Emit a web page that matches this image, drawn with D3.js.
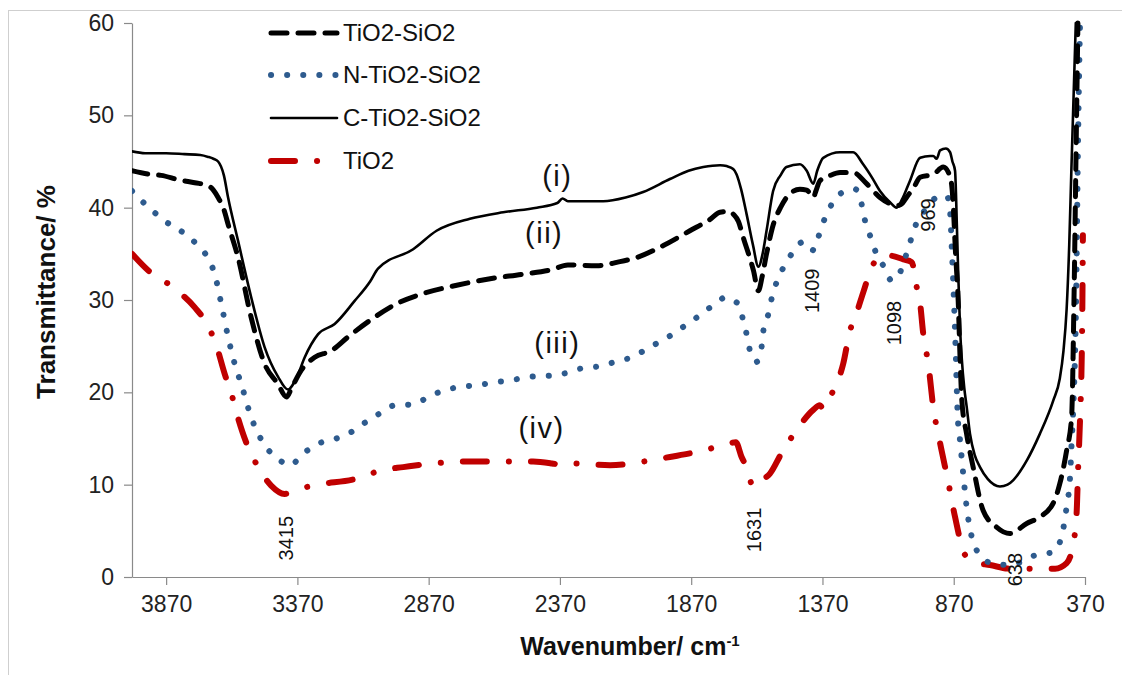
<!DOCTYPE html>
<html>
<head>
<meta charset="utf-8">
<script src="https://cdn.jsdelivr.net/npm/d3@7"></script>
<style>
  html, body { margin: 0; padding: 0; background: #fff; }
  svg { display: block; font-family: "Liberation Sans", Arial, sans-serif; }
</style>
</head>
<body>
<svg id="chart" width="1122" height="675"></svg>
<script>
// FTIR spectra: [wavenumber cm-1, transmittance %]
const cTiO2SiO2 = [
  [4000,46.1],[3950,45.9],[3870,45.9],[3800,45.8],[3740,45.7],[3710,45.5],[3690,45.3],[3672,45.0],
  [3650,43.5],[3634,41.1],[3596,36.4],[3546,30.3],[3495,24.9],[3444,21.7],[3406,20.3],[3370,21.8],
  [3342,23.8],[3291,26.3],[3228,27.4],[3152,29.9],[3093,32.0],[3063,33.4],[2929,35.5],[2840,37.5],
  [2713,38.8],[2586,39.5],[2458,40.0],[2380,40.5],[2360,41.0],[2340,40.7],[2300,40.7],[2205,40.7],
  [2120,41.1],[2053,41.7],[1951,43.1],[1880,44.0],[1824,44.4],[1760,44.6],[1735,44.5],[1710,44.2],
  [1697,43.6],[1680,42.0],[1659,39.3],[1635,36.0],[1614,33.6],[1598,35.0],[1583,37.5],[1558,41.8],
  [1530,43.5],[1507,44.4],[1456,44.7],[1430,44.0],[1405,42.6],[1390,44.0],[1367,45.4],[1303,46.0],
  [1253,46.0],[1215,44.7],[1180,43.2],[1151,41.8],[1110,40.5],[1088,40.0],[1065,41.0],[1037,42.9],
  [998,45.4],[960,45.6],[948,45.6],[935,45.3],[922,46.2],[900,46.4],[884,46.0],[875,45.0],[865,44.0],
  [858,38.0],[853,33.0],[846,27.0],[839,23.5],[830,20.5],[821,18.5],[808,15.5],[790,13.2],[770,11.9],
  [740,10.6],[694,9.8],[665,10.0],[643,10.5],[592,12.6],[542,15.5],[491,19.1],[466,21.5],[452,24.5],
  [440,29.0],[430,36.0],[422,44.0],[413,52.5],[405,60.0]
];

const tiO2SiO2 = [
  [4000,44.0],[3930,43.6],[3889,43.5],[3820,43.0],[3761,42.7],[3710,42.4],[3690,41.9],[3672,41.1],
  [3650,39.8],[3634,38.2],[3596,34.6],[3546,28.1],[3495,23.1],[3444,20.9],[3412,19.5],[3390,20.6],
  [3355,22.4],[3304,23.8],[3241,24.5],[3177,26.0],[3093,27.8],[2992,29.6],[2891,30.7],[2763,31.6],
  [2636,32.3],[2510,32.8],[2400,33.3],[2340,33.8],[2230,33.7],[2150,34.1],[2078,34.6],[1976,35.9],
  [1875,37.5],[1800,38.7],[1760,39.5],[1722,39.6],[1710,39.3],[1690,38.5],[1672,36.8],[1633,33.2],
  [1614,31.0],[1600,32.5],[1583,35.0],[1557,38.2],[1530,40.0],[1507,41.1],[1456,42.0],[1430,41.9],
  [1405,41.1],[1395,41.8],[1380,42.9],[1340,43.5],[1303,43.8],[1253,43.8],[1202,42.6],[1151,41.1],
  [1110,40.4],[1088,40.2],[1065,40.5],[1050,41.1],[1020,42.3],[998,43.3],[948,43.6],[910,44.4],
  [890,43.8],[878,42.5],[873,40.8],[863,35.0],[853,29.9],[845,23.0],[839,19.1],[821,15.5],[796,11.9],
  [758,7.2],[707,5.4],[656,4.7],[592,5.8],[542,6.5],[491,8.0],[466,10.1],[440,13.7],[421,17.3],
  [412,29.9],[404,46.2],[397,60.0]
];

const nTiO2SiO2 = [
  [4000,41.8],[3958,40.6],[3907,39.3],[3857,38.2],[3800,37.2],[3749,35.9],[3710,34.5],[3685,32.8],
  [3660,29.6],[3634,26.0],[3609,23.1],[3584,20.9],[3546,17.3],[3495,14.3],[3444,12.8],[3400,12.1],
  [3342,13.5],[3285,14.5],[3222,15.0],[3165,15.7],[3108,16.8],[3063,17.6],[2998,18.6],[2929,18.7],
  [2871,19.5],[2814,20.2],[2745,20.6],[2681,20.8],[2611,21.1],[2541,21.4],[2478,21.7],[2408,21.8],
  [2345,22.1],[2287,22.6],[2224,22.8],[2160,23.3],[2097,23.8],[2027,24.9],[1957,26.0],[1900,27.1],
  [1849,28.1],[1798,29.2],[1760,30.0],[1741,30.3],[1710,29.9],[1691,29.6],[1672,27.8],[1659,26.3],
  [1646,24.5],[1621,23.3],[1602,24.9],[1595,26.7],[1576,28.5],[1564,30.1],[1545,31.9],[1519,33.5],
  [1487,35.0],[1443,36.3],[1420,36.0],[1405,35.4],[1386,36.8],[1367,38.4],[1342,40.0],[1303,41.5],
  [1246,42.0],[1230,41.5],[1221,40.4],[1208,38.6],[1189,37.0],[1170,35.4],[1138,33.7],[1106,32.1],
  [1068,33.4],[1050,35.0],[1030,36.8],[1011,38.4],[980,39.7],[935,41.1],[897,41.3],[885,40.0],
  [877,35.4],[865,26.7],[854,17.0],[846,14.8],[834,11.2],[821,7.6],[802,4.4],[776,2.6],[726,1.5],
  [656,1.3],[554,2.4],[491,2.7],[459,4.4],[440,7.6],[427,10.8],[421,14.5],[415,18.1],[404,29.9],
  [397,46.2],[389,60.0]
];

const tiO2 = [
  [4000,35.0],[3938,33.2],[3850,31.5],[3761,29.2],[3723,27.8],[3679,25.1],[3647,22.0],[3622,19.9],
  [3596,17.2],[3564,14.5],[3533,12.6],[3470,9.9],[3419,9.0],[3355,9.6],[3292,10.0],[3152,10.6],
  [3043,11.6],[2967,11.9],[2853,12.3],[2738,12.5],[2598,12.5],[2472,12.5],[2400,12.3],[2357,12.1],
  [2320,12.3],[2179,12.1],[2053,12.5],[1951,13.0],[1824,13.7],[1722,14.5],[1700,14.6],[1678,13.0],
  [1659,11.9],[1634,9.8],[1600,10.5],[1570,11.2],[1526,13.4],[1469,15.9],[1405,18.1],[1380,18.6],
  [1367,18.2],[1342,19.5],[1316,20.9],[1291,23.1],[1265,26.7],[1246,28.1],[1215,30.8],[1183,33.5],
  [1145,34.8],[1113,34.8],[1062,34.4],[1030,34.1],[1011,31.4],[998,29.6],[986,26.3],[967,23.1],
  [948,18.4],[922,14.5],[891,10.3],[865,6.5],[827,2.4],[790,1.6],[732,1.3],[656,0.9],[484,0.9],
  [440,1.5],[415,3.6],[402,6.9],[396,11.9],[389,17.0],[381,26.7],[378,37.0]
];

const xTicks = [3870, 3370, 2870, 2370, 1870, 1370, 870, 370];
const yTicks = [0, 10, 20, 30, 40, 50, 60];

const seriesNames = ["TiO2-SiO2", "N-TiO2-SiO2", "C-TiO2-SiO2", "TiO2"];

// Curve labels (i)–(iv) and band positions
const curveLabels = [
  { text: "(i)", w: 2380, t: 42.3 },
  { text: "(ii)", w: 2430, t: 36.2 },
  { text: "(iii)", w: 2380, t: 24.3 },
  { text: "(iv)", w: 2440, t: 15.1 }
];
const bandLabels = [
  { text: "3415", w: 3415, t: 4.2 },
  { text: "1631", w: 1631, t: 5.1 },
  { text: "1409", w: 1409, t: 31.0 },
  { text: "1098", w: 1098, t: 27.5 },
  { text: "969", w: 969, t: 39.2 },
  { text: "638", w: 638, t: 0.8 }
];

const svg = d3.select("#chart");
const W = 1122, H = 675;
const plot = { left: 132, right: 1085, top: 23, bottom: 577 };

const x = d3.scaleLinear().domain([4000, 370]).range([plot.left, plot.right]);
const y = d3.scaleLinear().domain([0, 60]).range([plot.bottom, plot.top]);

// outer frame
svg.append("rect")
  .attr("x", 8.5).attr("y", 10.5)
  .attr("width", W).attr("height", H)
  .attr("fill", "none").attr("stroke", "#cfcfcf").attr("stroke-width", 1);

const axisColor = "#8a8a8a";

const xAxis = svg.append("g")
  .attr("transform", `translate(0,${plot.bottom})`)
  .call(d3.axisBottom(x).tickValues(xTicks).tickFormat(d3.format("d"))
    .tickSize(8).tickSizeOuter(0).tickPadding(11));
const yAxis = svg.append("g")
  .attr("transform", `translate(${plot.left},0)`)
  .call(d3.axisLeft(y).tickValues(yTicks).tickSize(8).tickSizeOuter(0).tickPadding(10));

[xAxis, yAxis].forEach(g => {
  g.select(".domain").attr("stroke", axisColor).attr("stroke-width", 1.2);
  g.selectAll(".tick line").attr("stroke", axisColor).attr("stroke-width", 1.2);
  g.selectAll(".tick text")
    .attr("fill", "#222")
    .style("font-size", "23px")
    .style("font-family", "'Liberation Sans', Arial, sans-serif");
});

// axis titles
svg.append("text")
  .attr("transform", `translate(55,${(plot.top + plot.bottom) / 2 - 8}) rotate(-90)`)
  .attr("text-anchor", "middle")
  .style("font-size", "26px").style("font-weight", "bold").attr("fill", "#111")
  .text("Transmittance/ %");

const xt = svg.append("text")
  .attr("x", 630).attr("y", 655)
  .attr("text-anchor", "middle")
  .style("font-size", "25px").style("font-weight", "bold").attr("fill", "#111");
xt.append("tspan").text("Wavenumber/ cm");
xt.append("tspan").attr("dy", -9).style("font-size", "15px").text("-1");

const line = d3.line()
  .x(d => x(d[0]))
  .y(d => y(d[1]))
  .curve(d3.curveMonotoneX);

const styles = {
  "TiO2-SiO2": { data: tiO2SiO2, stroke: "#000", width: 5, dash: "16,11", cap: "round" },
  "N-TiO2-SiO2": { data: nTiO2SiO2, stroke: "#2e5b8e", width: 6, dash: "0.1,16", cap: "round" },
  "C-TiO2-SiO2": { data: cTiO2SiO2, stroke: "#000", width: 2.6, dash: null, cap: "round" },
  "TiO2": { data: tiO2, stroke: "#c00000", width: 6, dash: "24,22,0.1,22", cap: "round" }
};

const drawOrder = ["TiO2", "N-TiO2-SiO2", "TiO2-SiO2", "C-TiO2-SiO2"];
svg.append("clipPath").attr("id", "plotclip").append("rect")
  .attr("x", plot.left).attr("y", plot.top - 4)
  .attr("width", plot.right - plot.left + 6).attr("height", plot.bottom - plot.top + 8);

const gLines = svg.append("g").attr("clip-path", "url(#plotclip)");
drawOrder.forEach(name => {
  const s = styles[name];
  gLines.append("path")
    .datum(s.data)
    .attr("d", line)
    .attr("fill", "none")
    .attr("stroke", s.stroke)
    .attr("stroke-width", s.width)
    .attr("stroke-linecap", s.cap)
    .attr("stroke-linejoin", "round")
    .attr("stroke-dasharray", s.dash);
});

// legend
const legend = svg.append("g").attr("transform", "translate(268,0)");
const legendY = [33, 75, 118, 161];
seriesNames.forEach((name, i) => {
  const s = styles[name];
  const g = legend.append("g").attr("transform", `translate(0,${legendY[i]})`);
  g.append("line")
    .attr("x1", 3).attr("x2", 69).attr("y1", 0).attr("y2", 0)
    .attr("stroke", s.stroke)
    .attr("stroke-width", s.width)
    .attr("stroke-linecap", s.cap)
    .attr("stroke-dasharray", s.dash);
  g.append("text")
    .attr("x", 75).attr("y", 0).attr("dy", "0.35em")
    .style("font-size", "24px").attr("fill", "#111")
    .text(name);
});

// curve labels
svg.append("g").selectAll("text")
  .data(curveLabels).join("text")
  .attr("x", d => x(d.w)).attr("y", d => y(d.t))
  .attr("text-anchor", "middle")
  .style("font-size", "29px").style("letter-spacing", "1.5px").attr("fill", "#111")
  .text(d => d.text);

// band position labels (vertical)
svg.append("g").selectAll("text")
  .data(bandLabels).join("text")
  .attr("transform", d => `translate(${x(d.w)},${y(d.t)}) rotate(-90)`)
  .attr("text-anchor", "middle")
  .attr("dominant-baseline", "central")
  .style("font-size", "20px").attr("fill", "#111")
  .text(d => d.text);
</script>
</body>
</html>
